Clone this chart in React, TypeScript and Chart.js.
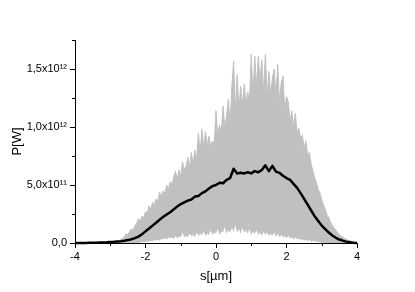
import React, { useEffect, useRef } from 'react';
import { Chart, registerables } from 'chart.js';

Chart.register(...registerables);

// s axis [µm] sampling of the gray envelope
const ENV_START = -3.0;
const ENV_STEP = 0.05;

// Upper envelope of the gray traces, P in units of 1e12 W
const UPPER = [
  0, 0, 0.01, 0.01, 0.02, 0.02, 0.03, 0.04, 0.05, 0.08,
  0.07, 0.10, 0.12, 0.11, 0.15, 0.17, 0.21, 0.19, 0.23, 0.22,
  0.27, 0.26, 0.32, 0.29, 0.35, 0.33, 0.38, 0.36, 0.44, 0.40,
  0.45, 0.43, 0.50, 0.46, 0.53, 0.50, 0.57, 0.62, 0.55, 0.63,
  0.58, 0.70, 0.63, 0.66, 0.74, 0.65, 0.78, 0.68, 0.80, 0.72,
  0.95, 0.78, 0.98, 0.82, 0.96, 0.84, 0.92, 0.83, 0.88, 0.86,
  1.14, 0.92, 1.02, 0.95, 1.18, 0.99, 1.10, 1.24, 1.02, 1.35,
  1.57, 1.12, 1.45, 1.15, 1.35, 1.18, 1.37, 1.20, 1.30, 1.22,
  1.63, 1.25, 1.61, 1.35, 1.61, 1.40, 1.58, 1.30, 1.63, 1.25,
  1.48, 1.28, 1.42, 1.50, 1.26, 1.54, 1.22, 1.38, 1.44, 1.15,
  1.26, 1.22, 1.05, 1.14, 1.00, 1.12, 0.95, 0.99, 0.90, 0.93,
  0.82, 0.88, 0.76, 0.78, 0.68, 0.62, 0.56, 0.52, 0.46, 0.43,
  0.37, 0.33, 0.29, 0.24, 0.22, 0.18, 0.15, 0.13, 0.11, 0.09,
  0.07, 0.06, 0.05, 0.04, 0.03, 0.025, 0.02, 0.015, 0.01, 0.005,
  0,
];

// Lower envelope of the gray traces, P in units of 1e12 W
const LOWER = [
  0, 0, 0, 0, 0, 0, 0, 0, 0, 0,
  0, 0, 0, 0, 0, 0, 0, 0.005, 0.01, 0.005,
  0.01, 0.015, 0.01, 0.02, 0.015, 0.025, 0.02, 0.03, 0.02, 0.035,
  0.03, 0.04, 0.03, 0.045, 0.04, 0.05, 0.035, 0.06, 0.04, 0.055,
  0.05, 0.09, 0.05, 0.06, 0.05, 0.08, 0.06, 0.07, 0.05, 0.09,
  0.06, 0.08, 0.07, 0.10, 0.06, 0.08, 0.07, 0.11, 0.07, 0.09,
  0.08, 0.12, 0.07, 0.10, 0.09, 0.14, 0.08, 0.11, 0.09, 0.13,
  0.10, 0.15, 0.09, 0.12, 0.08, 0.13, 0.09, 0.11, 0.08, 0.12,
  0.07, 0.10, 0.08, 0.11, 0.07, 0.09, 0.06, 0.10, 0.07, 0.09,
  0.06, 0.08, 0.06, 0.09, 0.05, 0.08, 0.05, 0.07, 0.05, 0.06,
  0.04, 0.06, 0.04, 0.05, 0.03, 0.05, 0.03, 0.04, 0.02, 0.035,
  0.02, 0.03, 0.015, 0.025, 0.01, 0.02, 0.01, 0.015, 0.005, 0.01,
  0, 0, 0, 0, 0, 0, 0, 0, 0, 0,
  0, 0, 0, 0, 0, 0, 0, 0, 0, 0,
  0,
];

// Mean power (black line), sampled from -4 to 4 µm every 0.1 µm
const MEAN_START = -4.0;
const MEAN_STEP = 0.1;
const MEAN = [
  0, 0, 0.001, 0.001, 0.002, 0.002, 0.003, 0.004, 0.005, 0.006,
  0.008, 0.01, 0.013, 0.016, 0.02, 0.025, 0.032, 0.042, 0.055, 0.075,
  0.1, 0.125, 0.15, 0.175, 0.2, 0.225, 0.245, 0.265, 0.29, 0.315,
  0.335, 0.35, 0.365, 0.375, 0.40, 0.405, 0.43, 0.445, 0.47, 0.49,
  0.5, 0.52, 0.515, 0.545, 0.56, 0.64, 0.60, 0.605, 0.60, 0.61,
  0.60, 0.62, 0.61, 0.63, 0.67, 0.62, 0.665, 0.615, 0.605, 0.58,
  0.56, 0.545, 0.51, 0.475, 0.43, 0.38, 0.33, 0.28, 0.23, 0.19,
  0.15, 0.12, 0.09, 0.065, 0.045, 0.03, 0.02, 0.012, 0.006, 0.002,
  0,
];

const X_TICKS = [-4, -2, 0, 2, 4];
const X_TICK_LABELS = ['-4', '-2', '0', '2', '4'];
const X_MINOR = [-3, -1, 1, 3];
const Y_TICKS = [0, 0.5, 1.0, 1.5];
const Y_TICK_LABELS = ['0,0', '5,0x10\u00B9\u00B9', '1,0x10\u00B9\u00B2', '1,5x10\u00B9\u00B2'];
const Y_MINOR = [0.25, 0.75, 1.25, 1.75];
const Y_MAX = 1.75;

const FONT = "'Liberation Sans', Arial, sans-serif";

const minorTicks = {
  id: 'minorTicks',
  afterDraw(chart: any) {
    const { ctx, chartArea, scales } = chart;
    ctx.save();
    ctx.strokeStyle = '#000';
    ctx.lineWidth = 1;
    ctx.beginPath();
    X_MINOR.forEach((v) => {
      const px = Math.round(scales.x.getPixelForValue(v)) + 0.5;
      ctx.moveTo(px, chartArea.bottom);
      ctx.lineTo(px, chartArea.bottom + 3);
    });
    Y_MINOR.forEach((v) => {
      const py = Math.round(scales.y.getPixelForValue(v)) + 0.5;
      ctx.moveTo(chartArea.left - 3, py);
      ctx.lineTo(chartArea.left, py);
    });
    ctx.stroke();
    ctx.restore();
  },
};

export default function App() {
  const ref = useRef<HTMLCanvasElement | null>(null);

  useEffect(() => {
    if (!ref.current) return;
    const envX = UPPER.map((_, i) => ENV_START + i * ENV_STEP);
    const meanX = MEAN.map((_, i) => MEAN_START + i * MEAN_STEP);
    const chart = new Chart(ref.current, {
      type: 'line',
      data: {
        datasets: [
          {
            data: LOWER.map((y, i) => ({ x: envX[i], y })),
            borderWidth: 0,
            borderColor: 'rgba(0,0,0,0)',
            pointRadius: 0,
            fill: false,
            order: 3,
          },
          {
            data: UPPER.map((y, i) => ({ x: envX[i], y })),
            borderWidth: 1,
            borderColor: '#c0c0c0',
            backgroundColor: '#c0c0c0',
            pointRadius: 0,
            fill: 0,
            order: 2,
          },
          {
            data: MEAN.map((y, i) => ({ x: meanX[i], y })),
            borderWidth: 2.5,
            borderColor: '#000',
            pointRadius: 0,
            fill: false,
            borderJoinStyle: 'round',
            clip: 4,
            order: 1,
          },
        ],
      },
      options: {
        animation: false,
        responsive: false,
        events: [],
        layout: { padding: { left: 0, top: 40, right: 58, bottom: 0 } },
        plugins: { legend: { display: false }, tooltip: { enabled: false } },
        scales: {
          x: {
            type: 'linear',
            min: -4,
            max: 4,
            afterBuildTicks: (s: any) => {
              s.ticks = X_TICKS.map((v) => ({ value: v }));
            },
            afterFit: (s: any) => {
              s.height = 49;
            },
            ticks: {
              color: '#000',
              font: { family: FONT, size: 11 },
              padding: 2,
              maxRotation: 0,
              callback: (v: any) => {
                const i = X_TICKS.indexOf(Number(v));
                return i >= 0 ? X_TICK_LABELS[i] : '';
              },
            },
            grid: { display: true, drawOnChartArea: false, drawTicks: true, tickLength: 5, tickColor: '#000' },
            border: { display: true, color: '#000', width: 1 },
            title: {
              display: true,
              text: 's[\u00B5m]',
              color: '#000',
              font: { family: FONT, size: 13 },
              padding: { top: 0, bottom: 8 },
            },
          },
          y: {
            type: 'linear',
            min: 0,
            max: Y_MAX,
            afterBuildTicks: (s: any) => {
              s.ticks = Y_TICKS.map((v) => ({ value: v }));
            },
            afterFit: (s: any) => {
              s.width = 75;
            },
            ticks: {
              color: '#000',
              font: { family: FONT, size: 11 },
              padding: 3,
              callback: (v: any) => {
                const i = Y_TICKS.findIndex((t) => Math.abs(t - Number(v)) < 1e-9);
                return i >= 0 ? Y_TICK_LABELS[i] : '';
              },
            },
            grid: { display: true, drawOnChartArea: false, drawTicks: true, tickLength: 5, tickColor: '#000' },
            border: { display: true, color: '#000', width: 1 },
            title: {
              display: true,
              text: 'P[W]',
              color: '#000',
              font: { family: FONT, size: 13 },
              padding: { top: 10, bottom: 0 },
            },
          },
        },
      },
      plugins: [minorTicks],
    } as any);
    return () => chart.destroy();
  }, []);

  return (
    <div style={{ position: 'absolute', left: 0, top: 0, width: 415, height: 292, background: '#fff' }}>
      <canvas ref={ref} width={415} height={292} />
    </div>
  );
}
